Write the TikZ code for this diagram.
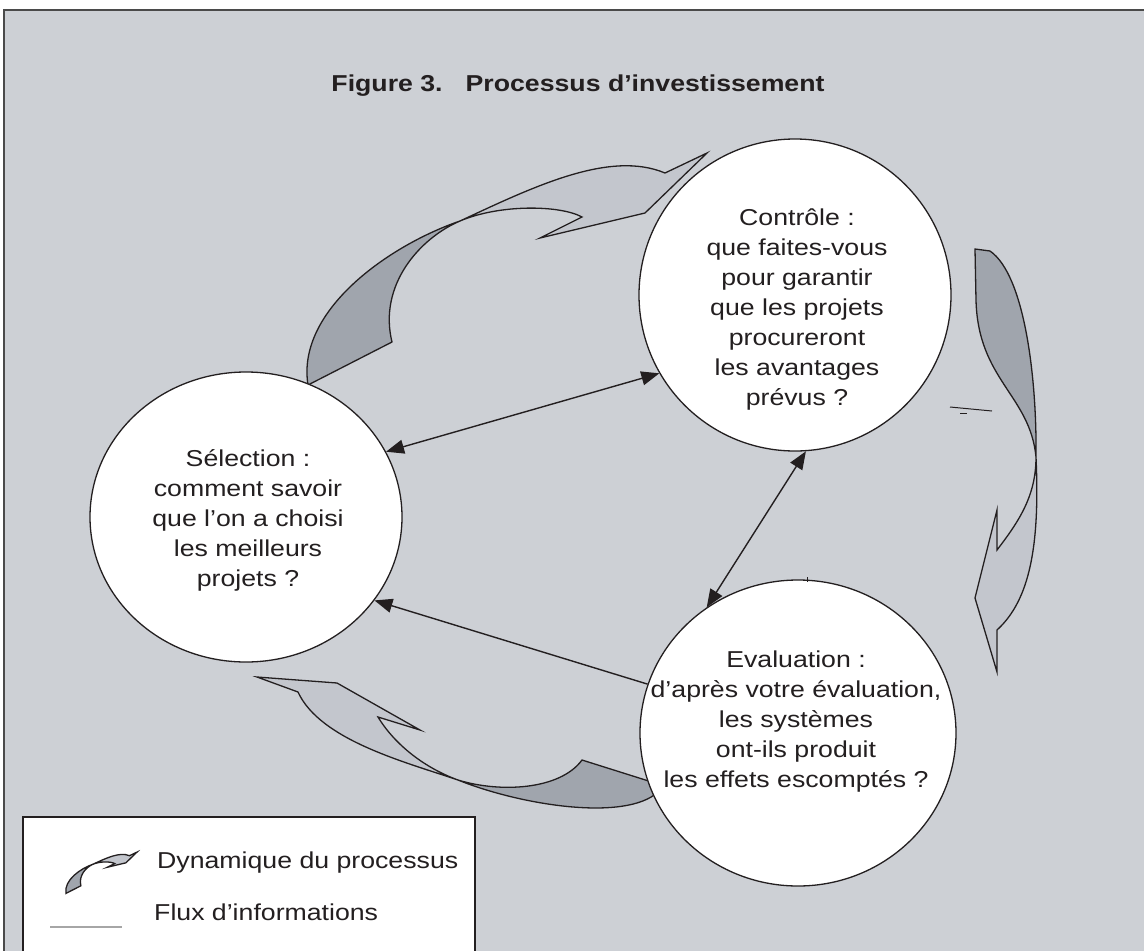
\documentclass[tikz,border=0pt]{standalone}
\usepackage{fontspec}
\setmainfont{Liberation Sans}[FakeStretch=1.16]
\usetikzlibrary{arrows.meta,shapes.geometric}
\definecolor{bgc}{HTML}{CDD0D5}
\definecolor{litec}{HTML}{C3C6CD}
\definecolor{darkc}{HTML}{A0A5AD}
\definecolor{inkc}{HTML}{231F20}
\definecolor{framec}{HTML}{4A4A4A}
\newcommand\dynTop{%
  \filldraw[dynlite] (460,221) .. controls (535,186) and (610,150) .. (665,173)
    -- (707,153) -- (645,213) -- (540,238) -- (582,217)
    .. controls (560,205) and (500,204) .. (460,221) -- cycle;
  \filldraw[dyndark] (460,221) .. controls (390,245) and (296,310) .. (308,385)
    -- (392,342) .. controls (378,285) and (420,238) .. (460,221) -- cycle;
}
\begin{document}
\begin{tikzpicture}[x=1pt,y=-1pt,
  dynlite/.style={fill=litec,draw=inkc,line width=1.3pt,line join=miter},
  dyndark/.style={fill=darkc,draw=inkc,line width=1.3pt,line join=miter},
  bubble/.style={ellipse,draw=inkc,fill=white,line width=1.3pt,inner sep=0pt},
  txt/.style={align=center,inner sep=0pt,text=inkc,font=\fontsize{23}{30}\selectfont},
  conn/.style={draw=inkc,line width=1.4pt,{Triangle[length=18pt,width=14pt]}-{Triangle[length=18pt,width=14pt]}},
  conn1/.style={draw=inkc,line width=1.4pt,-{Triangle[length=18pt,width=14pt]}}]
\useasboundingbox (0,0) rectangle (1144,951);
\clip (0,0) rectangle (1144,951);
\fill[white] (0,0) rectangle (1144,951);
\fill[bgc] (4,10) rectangle (1150,960);
\draw[framec,line width=2pt] (4,960) -- (4,10) -- (1150,10);

% title
\node[inner sep=0pt,text=inkc,font=\fontsize{23}{28}\selectfont\bfseries] (title) at (578,86) {Figure 3.\quad Processus d’investissement};

% dynamic arrows
\dynTop
% right arrow
\filldraw[dyndark] (975,249) -- (990,251)
  .. controls (1025,275) and (1037,380) .. (1036,457)
  .. controls (1030,395) and (978,380) .. (976,300) -- cycle;
\filldraw[dynlite] (1036,457) .. controls (1040,545) and (1030,600) .. (997,630)
  -- (997,672) -- (975,598) -- (997,510) -- (997,550)
  .. controls (1020,520) and (1036,495) .. (1036,457) -- cycle;
% bottom arrow
\filldraw[dynlite] (257,677) -- (337,683) -- (420,730) -- (378,717)
  .. controls (395,745) and (425,768) .. (458,780)
  .. controls (405,762) and (320,740) .. (298,692) -- cycle;
\filldraw[dyndark] (458,780) .. controls (500,793) and (560,790) .. (582,760)
  -- (655,783) -- (658,792)
  .. controls (625,822) and (520,805) .. (458,780) -- cycle;

% circles
\node[bubble,minimum width=312pt,minimum height=290pt] (sel) at (246,517) {};
\node[bubble,minimum width=312pt,minimum height=312pt] (ctl) at (795,295) {};
\node[bubble,minimum width=316pt,minimum height=306pt] (evl) at (798,733) {};

\node[txt] (ctltxt) at (797,310) {Contrôle :\\que faites-vous\\pour garantir\\que les projets\\procureront\\les avantages\\prévus ?};
\node[txt] (seltxt) at (248,520) {Sélection :\\comment savoir\\que l’on a choisi\\les meilleurs\\projets ?};
\node[txt] (evltxt) at (796,722) {Evaluation :\\d’après votre évaluation,\\les systèmes\\ont-ils produit\\les effets escomptés ?};

% connectors
\draw[conn] (sel.25) -- (ctl.210);
\draw[conn] (ctl.274) -- (evl.126);
\draw[conn1] (evl.162) -- (sel.327);

% stray marks
\coordinate (m1) at (950,407); \coordinate (m2) at (992,411);
\draw[inkc,line width=1pt] (m1) -- (m2);
\coordinate (m3) at (960,413); \coordinate (m4) at (967,413);
\draw[inkc,line width=1pt] (m3) -- (m4);
\coordinate (m5) at (807,577); \coordinate (m6) at (807,582);
\draw[inkc,line width=0.8pt] (m5) -- (m6);

% legend
\draw[fill=white,draw=inkc,line width=1.5pt] (23,817) rectangle (475,970);
\begin{scope}[shift={(11.1,824.9)},scale=0.178]
\dynTop
\end{scope}
\node[anchor=base west,inner sep=0pt,text=inkc,font=\fontsize{23}{28}\selectfont] (lg1) at (157,868) {Dynamique du processus};
\coordinate (lgA) at (50,927); \coordinate (lgB) at (122,927);
\draw[gray!70,line width=1.5pt] (lgA) -- (lgB);
\node[anchor=base west,inner sep=0pt,text=inkc,font=\fontsize{23}{28}\selectfont] (lg2) at (154,920) {Flux d’informations};
\end{tikzpicture}
\end{document}
